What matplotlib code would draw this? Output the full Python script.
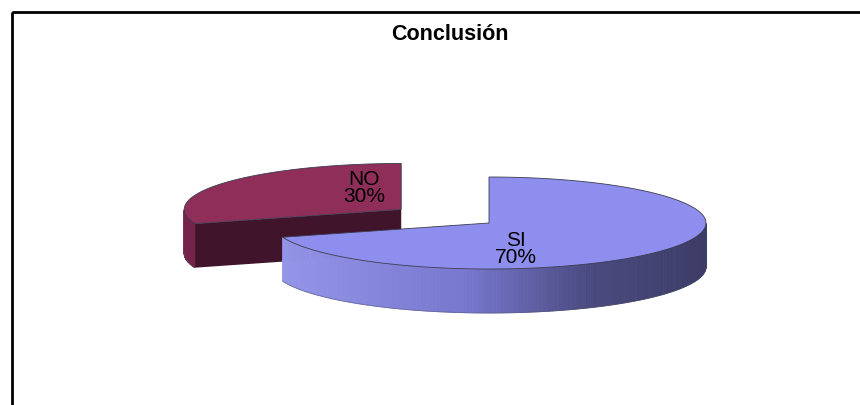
import numpy as np
import matplotlib
matplotlib.use("Agg")
import matplotlib.pyplot as plt
from matplotlib.patches import Polygon, Rectangle

plt.rcParams['font.family'] = ['Liberation Sans', 'DejaVu Sans']

labels = ['SI', 'NO']
values = [70, 30]
explode = [0.0, 0.5]
top_colors = ['#8e8eee', '#8e2e59']
side_colors = ['#8c8ce6', '#40142a']
rim_colors = ['#8c8ce6', '#74244a']

# pie geometry in pixel units
cx, cy = 489, 223
rx, ry = 217, 46
depth = 44
start = 90.0


def pt(x0, y0, t, dy=0):
    t = np.radians(t)
    return x0 + rx * np.cos(t), y0 - ry * np.sin(t) + dy


def si_shade(x):
    # darker toward the right side of the wall
    xs = [285, 470, 590, 705]
    r = np.interp(x, xs, [148, 118, 74, 60])
    b = np.interp(x, xs, [232, 205, 128, 102])
    return (r / 255, r / 255, b / 255)


fig = plt.figure(figsize=(8.6, 4.05), dpi=100)
ax = fig.add_axes([0, 0, 1, 1])
ax.set_xlim(0, 860)
ax.set_ylim(405, 0)
ax.axis('off')

ax.add_patch(Rectangle((12, 12), 900, 450, fill=False, edgecolor='black', lw=2))

total = float(sum(values))
slices = []
a0 = start
for i, v in enumerate(values):
    span = 360.0 * v / total
    a1 = a0 - span
    mid = np.radians((a0 + a1) / 2)
    ox = cx + explode[i] * rx * np.cos(mid)
    oy = cy - explode[i] * ry * np.sin(mid)
    slices.append((i, a0, a1, ox, oy))
    a0 = a1

# back slices first
order = sorted(slices, key=lambda s: s[4])
for i, a0, a1, ox, oy in order:
    # radial walls facing the front
    for edge, normal in ((a0, a0 + 90), (a1, a1 - 90)):
        if np.sin(np.radians(normal)) < -0.01:
            ex, ey = pt(ox, oy, edge)
            poly = [(ox, oy), (ex, ey), (ex, ey + depth), (ox, oy + depth)]
            ax.add_patch(Polygon(poly, closed=True, facecolor=side_colors[i],
                                 edgecolor='none'))

    # outer wall, only the front half is visible
    ts = np.linspace(a1, a0, 400)
    ts_mod = np.mod(ts, 360)
    vis = ts_mod >= 180
    ts = ts[vis]
    if len(ts) > 1:
        for k in range(len(ts) - 1):
            p1 = pt(ox, oy, ts[k])
            p2 = pt(ox, oy, ts[k + 1])
            quad = [p1, p2, (p2[0], p2[1] + depth), (p1[0], p1[1] + depth)]
            if i == 0:
                col = si_shade((p1[0] + p2[0]) / 2)
            else:
                col = rim_colors[i]
            ax.add_patch(Polygon(quad, closed=True, facecolor=col,
                                 edgecolor=col, lw=0.6))
        bx, by = pt(ox, oy, ts, depth)
        ax.plot(bx, by, color='#50506a', lw=0.6, alpha=0.5)

    # top face
    arc = np.linspace(a0, a1, 300)
    ax_, ay_ = pt(ox, oy, arc)
    poly = [(ox, oy)] + list(zip(ax_, ay_))
    ax.add_patch(Polygon(poly, closed=True, facecolor=top_colors[i],
                         edgecolor='#3c3c50', lw=0.6))

label_pos = [(516, 249), (364, 188)]
for i, (lx, ly) in enumerate(label_pos):
    ax.text(lx, ly, f"{labels[i]}\n{values[i]}%", ha='center', va='center',
            fontsize=15, linespacing=0.92, color='black')

ax.text(450, 34, 'Conclusión', ha='center', va='center', fontsize=15.5,
        fontweight='bold')

fig.savefig('out.png', dpi=100)
